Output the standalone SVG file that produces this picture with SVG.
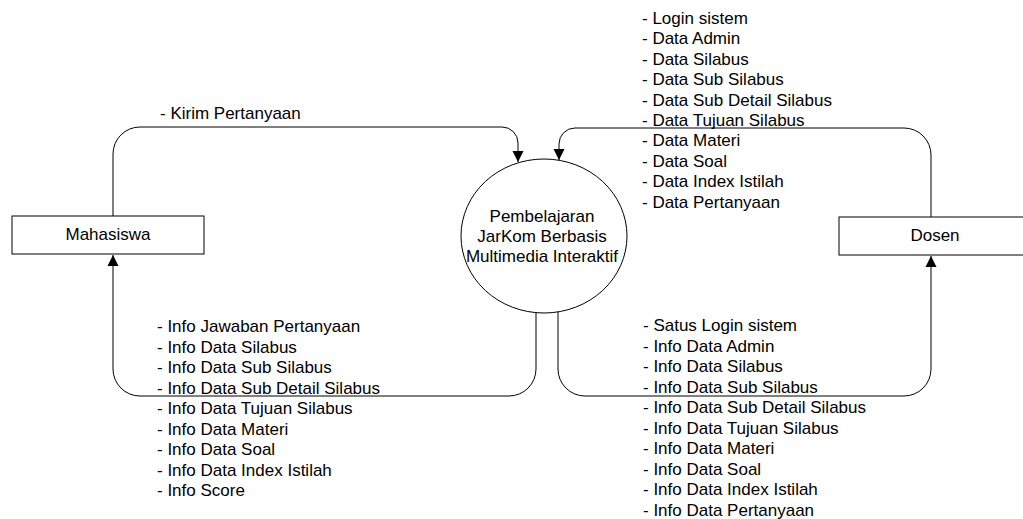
<svg xmlns="http://www.w3.org/2000/svg" width="1023" height="519" viewBox="0 0 1023 519">
<style>
  text { font-family: "Liberation Sans", Arial, sans-serif; font-size: 17px; fill: #000; }
  .node { fill: #fff; stroke: #000; stroke-width: 1; }
  .flow { fill: none; stroke: #000; stroke-width: 1; }
  .c { text-anchor: middle; }
</style>
<defs>
  <marker id="arr" markerUnits="userSpaceOnUse" markerWidth="12" markerHeight="12" refX="11" refY="6" orient="auto">
    <path d="M0,0.5 L11,6 L0,11.5 z" fill="#000"/>
  </marker>
</defs>
<rect width="1023" height="519" fill="#fff"/>
<g id="connectors">
  <path class="flow" d="M113,216 V154 A27,27 0 0 1 140,127 H502 A16,16 0 0 1 518,143 V162" marker-end="url(#arr)"/>
  <path class="flow" d="M931,217 V155 A27,27 0 0 0 904,128 H575 A16,16 0 0 0 559,144 V160" marker-end="url(#arr)"/>
  <path class="flow" d="M536,312 V369 A27,27 0 0 1 509,396 H140 A27,27 0 0 1 113,369 V255" marker-end="url(#arr)"/>
  <path class="flow" d="M558,312 V369 A27,27 0 0 0 585,396 H904 A27,27 0 0 0 931,369 V256" marker-end="url(#arr)"/>
</g>
<g id="labels">
  <text x="160" y="119">- Kirim Pertanyaan</text>
  <g id="label-dosen-in">
    <text x="642" y="24">- Login sistem</text>
    <text x="642" y="44.4">- Data Admin</text>
    <text x="642" y="64.8">- Data Silabus</text>
    <text x="642" y="85.2">- Data Sub Silabus</text>
    <text x="642" y="105.6">- Data Sub Detail Silabus</text>
    <text x="642" y="126">- Data Tujuan Silabus</text>
    <text x="642" y="146.4">- Data Materi</text>
    <text x="642" y="166.8">- Data Soal</text>
    <text x="642" y="187.2">- Data Index Istilah</text>
    <text x="642" y="207.6">- Data Pertanyaan</text>
  </g>
  <g id="label-mhs-out">
    <text x="157" y="332">- Info Jawaban Pertanyaan</text>
    <text x="157" y="352.5">- Info Data Silabus</text>
    <text x="157" y="373">- Info Data Sub Silabus</text>
    <text x="157" y="393.5">- Info Data Sub Detail Silabus</text>
    <text x="157" y="414">- Info Data Tujuan Silabus</text>
    <text x="157" y="434.5">- Info Data Materi</text>
    <text x="157" y="455">- Info Data Soal</text>
    <text x="157" y="475.5">- Info Data Index Istilah</text>
    <text x="157" y="496">- Info Score</text>
  </g>
  <g id="label-dosen-out">
    <text x="643" y="331">- Satus Login sistem</text>
    <text x="643" y="351.5">- Info Data Admin</text>
    <text x="643" y="372">- Info Data Silabus</text>
    <text x="643" y="392.5">- Info Data Sub Silabus</text>
    <text x="643" y="413">- Info Data Sub Detail Silabus</text>
    <text x="643" y="433.5">- Info Data Tujuan Silabus</text>
    <text x="643" y="454">- Info Data Materi</text>
    <text x="643" y="474.5">- Info Data Soal</text>
    <text x="643" y="495">- Info Data Index Istilah</text>
    <text x="643" y="515.5">- Info Data Pertanyaan</text>
  </g>
</g>
<g id="mahasiswa">
  <rect class="node" x="12" y="216" width="192" height="38"/>
  <text class="c" x="108" y="240">Mahasiswa</text>
</g>
<g id="dosen">
  <rect class="node" x="839" y="217" width="192" height="38"/>
  <text class="c" x="935" y="241">Dosen</text>
</g>
<g id="proses">
  <ellipse class="node" cx="544" cy="236" rx="83" ry="77"/>
  <text class="c" x="542" y="222">Pembelajaran</text>
  <text class="c" x="542" y="242">JarKom Berbasis</text>
  <text class="c" x="542" y="262">Multimedia Interaktif</text>
</g>
</svg>
